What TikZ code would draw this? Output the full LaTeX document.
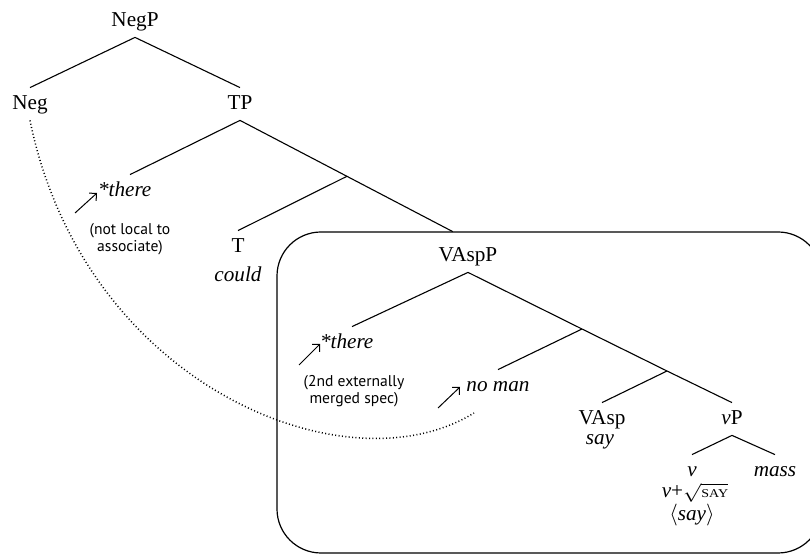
\documentclass[tikz,border=0pt]{standalone}
\usepackage{fontspec}
\setmainfont{Liberation Serif}
\newfontfamily\labelsans{PT Sans}
\usetikzlibrary{arrows.meta,calc}

\begin{document}
\begin{tikzpicture}[x=0.5pt,y=-0.5pt,
  every node/.style={font=\fontsize{10.6}{12}\selectfont},
  cat/.style={anchor=base, inner sep=1pt, text height=10pt, text depth=4pt},
  lex/.style={cat, font=\fontsize{10.6}{12}\selectfont\itshape},
  word/.style={anchor=base, inner sep=1pt, font=\fontsize{10.6}{12}\selectfont\itshape},
  note/.style={anchor=base, inner sep=0pt, font=\labelsans\fontsize{7.8}{8.5}\selectfont},
  branch/.style={line width=0.55pt},
  pointer/.style={line width=0.5pt, -{Straight Barb[length=2.6pt,width=5.2pt]}},
  trace/.style={line width=0.75pt, dash pattern=on 0.5pt off 1.2pt},
  frame/.style={line width=0.6pt, rounded corners=22pt}]

\useasboundingbox (0,0) rectangle (810,555);

% upper clause
\node[cat] (NegP) at (135,27) {NegP};
\node[cat] (Neg)  at (30,110) {Neg};
\node[cat] (TP)   at (240,110) {TP};
\node[lex] (there1) at (130,197) {\llap{*}there};
\node[note] (n1a) at (130,235) {(not local to};
\node[note] (n1b) at (130,252) {associate)};
\node[cat] (T)     at (238,253) {T};
\node[word] (could) at (238,282) {could};

% boxed VAspP
\node[cat] (VAspP) at (468,262) {VAspP};
\node[lex] (there2) at (352,349) {\llap{*}there};
\node[note] (n2a) at (354,387) {(2nd externally};
\node[note] (n2b) at (354,404) {merged spec)};
\node[lex] (noman) at (498,392) {no man};
\node[cat] (VAsp) at (602,425) {VAsp};
\node[word] (say) at (600,445) {say};
\node[cat] (vP) at (732,425) {{\itshape ν}P};
\node[lex] (nu) at (692,477) {ν};
\node[lex] (mass) at (775,477) {mass};
\node[word, font=\fontsize{10.6}{12}\selectfont] (root) at (695,498)
  {{\itshape ν}+\scalebox{1}[0.85]{$\sqrt{\mbox{\fontsize{7}{8}\selectfont SAY}}$}};
\node[word, font=\fontsize{10.6}{12}\selectfont] (copy) at (692,521)
  {$\langle$\textit{say}$\rangle$};

% bar-level junctions
\coordinate (tbar) at ($(TP.south)!0.469!(VAspP.north)$);
\coordinate (vbar1) at (582,329);
\coordinate (vbar2) at (667,371);

% branches
\draw[branch] (NegP.south) -- (Neg.north);
\draw[branch] (NegP.south) -- (TP.north);
\draw[branch] (TP.south) -- (there1.north);
\draw[branch, shorten >=8.6pt] (TP.south) -- (VAspP.north);
\draw[branch] (tbar) -- (T.north);
\draw[branch] (VAspP.south) -- (there2.north);
\draw[branch] (VAspP.south) -- (vbar1) -- (vbar2) -- (vP.north);
\draw[branch] (vbar1) -- (noman.north);
\draw[branch] (vbar2) -- (VAsp.north);
\draw[branch] (vP.south) -- (nu.north);
\draw[branch] (vP.south) -- (mass.north);

% frame round the VAspP domain
\draw[frame] (277,232) rectangle (822,553);

% movement pointers
\coordinate (p1a) at (75,213);  \coordinate (p1b) at (97,193);
\coordinate (p2a) at (299,365); \coordinate (p2b) at (320,344);
\coordinate (p3a) at (438,408); \coordinate (p3b) at (460,387);
\draw[pointer] (p1a) -- (p1b);
\draw[pointer] (p2a) -- (p2b);
\draw[pointer] (p3a) -- (p3b);

% dependency from Neg to the associate
\coordinate (nmtrace) at (474,413);
\draw[trace] (Neg.south) .. controls (84,385) and (346,492) .. (nmtrace);
\end{tikzpicture}
\end{document}
